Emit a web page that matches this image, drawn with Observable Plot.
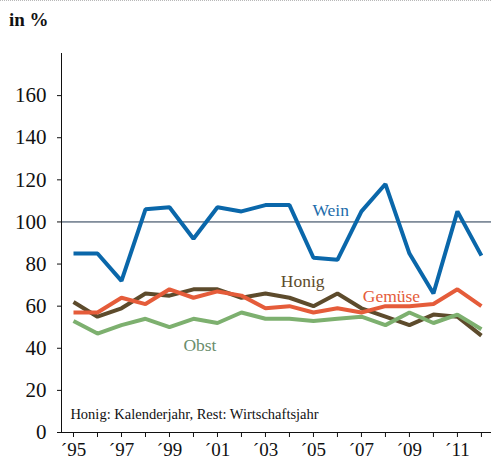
<!DOCTYPE html>
<html>
<head>
<meta charset="utf-8">
<script src="https://cdn.jsdelivr.net/npm/d3@7"></script>
<script src="https://cdn.jsdelivr.net/npm/@observablehq/plot@0.6"></script>
<style>
  html, body { margin: 0; padding: 0; background: #fff; }
  body { border-top: 1px dotted #b8b8b8; width: 491px; }
  #title { height: 39px; box-sizing: border-box; padding: 9px 0 0 9px;
    font-family: "Liberation Serif", "Times New Roman", serif; font-weight: bold; font-size: 19px; color: #111; line-height: 20px; }
  #chart svg g[aria-label="x-axis tick label"] { font-size: 19px; }
</style>
</head>
<body>
<div id="title">in %</div>
<div id="chart"></div>
<script>
const years   = [1995,1996,1997,1998,1999,2000,2001,2002,2003,2004,2005,2006,2007,2008,2009,2010,2011,2012];
const wein    = [85, 85, 72, 106, 107, 92, 107, 105, 108, 108, 83, 82, 105, 118, 85, 66, 105, 84];
const honig   = [62, 55, 59, 66, 65, 68, 68, 64, 66, 64, 60, 66, 59, 55, 51, 56, 55, 46];
const gemuese = [57, 57, 64, 61, 68, 64, 67, 65, 59, 60, 57, 59, 57, 60, 60, 61, 68, 60];
const obst    = [53, 47, 51, 54, 50, 54, 52, 57, 54, 54, 53, 54, 55, 51, 57, 52, 56, 49];
const yTicks  = [0, 20, 40, 60, 80, 100, 120, 140, 160];
const refValue = 100;
const note = "Honig: Kalenderjahr, Rest: Wirtschaftsjahr";

const seriesNames = ["Honig", "Obst", "Gemüse", "Wein"];
const seriesValues = [honig, obst, gemuese, wein];
const lineColors = {Wein: "#0a67aa", Honig: "#5d4b2c", "Gemüse": "#e55c3a", Obst: "#7db06f"};
const textColors = {Wein: "#1d6cab", Honig: "#5d4b2c", "Gemüse": "#e55c3a", Obst: "#6a8d6c"};
// label anchors in data units
const labels = [
  {name: "Wein",   year: 2005.72, value: 105.6},
  {name: "Honig",  year: 2004.55, value: 71.6},
  {name: "Gemüse", year: 2008.25, value: 64.5},
  {name: "Obst",   year: 2000.27, value: 41.5}
];

const rows = seriesNames.flatMap((name, i) => years.map((year, j) => ({name, year, value: seriesValues[i][j]})));
const xDomain = [1994.5, 2012.42];

const chart = Plot.plot({
  width: 491,
  height: 423,
  marginTop: 13,
  marginBottom: 31,
  marginLeft: 61,
  marginRight: 0,
  style: {fontFamily: "'Liberation Serif', 'Times New Roman', serif", fontSize: "21px", color: "#111", background: "#fff"},
  x: {domain: xDomain, ticks: years, tickSize: 5, tickPadding: 5, label: null,
      tickFormat: d => (d % 2 === 1) ? "\u00b4" + String(d).slice(2) : ""},
  y: {domain: [0, 180], ticks: yTicks, tickSize: 4, tickPadding: 11, label: null},
  marks: [
    Plot.ruleY([refValue], {stroke: "#1f344d", strokeWidth: 1}),
    ...seriesNames.map(name => Plot.line(rows.filter(r => r.name === name), {
      x: "year", y: "value", stroke: lineColors[name], strokeWidth: 4,
      strokeLinejoin: "miter", strokeLinecap: "butt"
    })),
    Plot.text(labels, {x: "year", y: "value", text: "name", fill: d => textColors[d.name],
      fontSize: 17.5, textAnchor: "middle", lineAnchor: "middle"}),
    Plot.text([note], {x: xDomain[0] + 0.37, y: 8.8, text: d => d, fontSize: 14.5,
      textAnchor: "start", lineAnchor: "middle", fill: "#111"}),
    Plot.ruleY([0], {stroke: "#111", strokeWidth: 1}),
    Plot.ruleX([xDomain[0]], {stroke: "#111", strokeWidth: 1})
  ]
});
document.getElementById("chart").appendChild(chart);
</script>
</body>
</html>
